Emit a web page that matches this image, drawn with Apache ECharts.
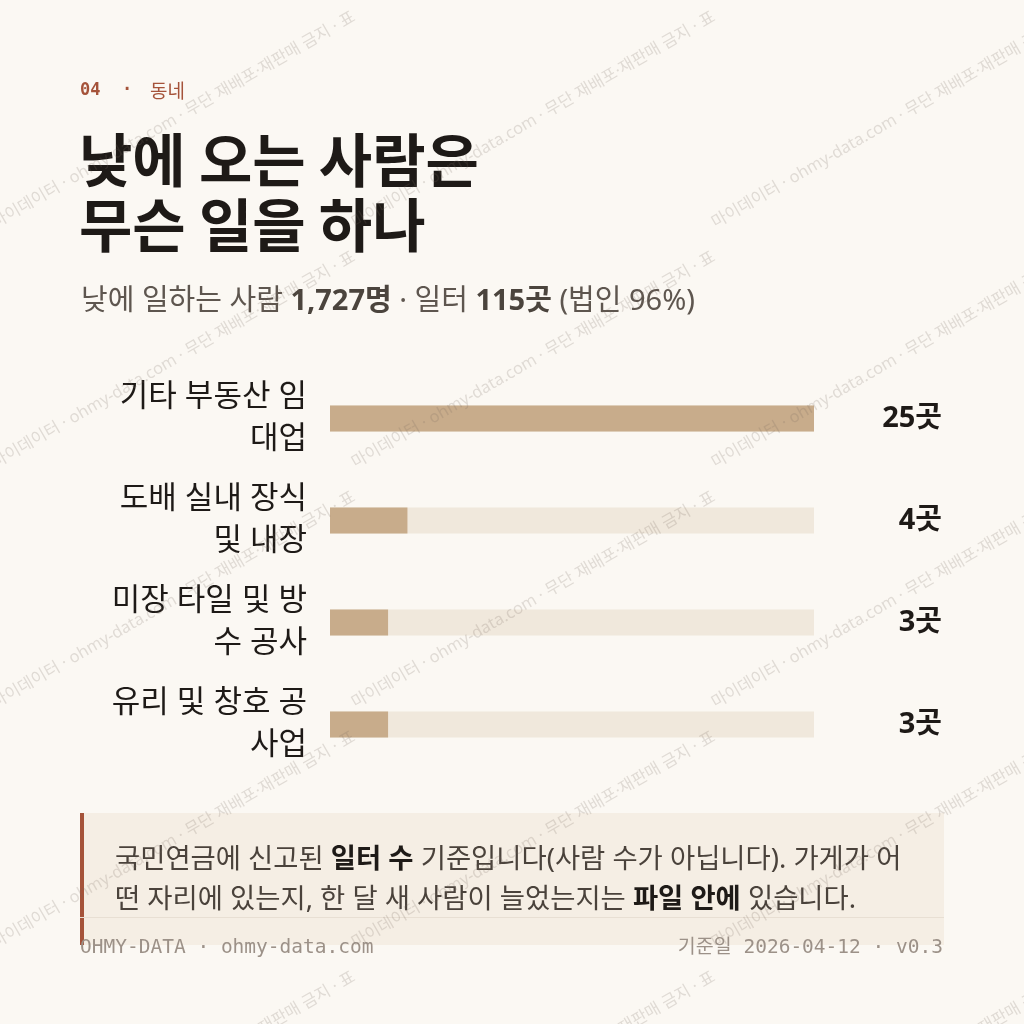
<!DOCTYPE html>
<html><head><meta charset="utf-8">
<script src="https://cdn.jsdelivr.net/npm/echarts@6/dist/echarts.min.js"></script>
<style>html,body{margin:0;padding:0;background:#FBF8F3;} #c{width:1024px;height:1024px;}</style>
</head><body><div id="c"></div>
<script>
// ---- data ----
const categories = ['기타 부동산 임대업', '도배 실내 장식 및 내장', '미장 타일 및 방수 공사', '유리 및 창호 공사업'];
const values = [25, 4, 3, 3];
const valueUnit = '곳';
const workers = '1,727';
const sites = 115;
const corpShare = 96;

// ---- styles ----
const SANS = "'Noto Sans', 'Noto Sans CJK KR', sans-serif";
const CJK = "'Noto Sans CJK KR', 'Noto Sans', sans-serif";
const MONO = "'DejaVu Sans Mono', 'Noto Sans CJK KR', monospace";
const BG = '#FBF8F3', RUST = '#A5533A', INK = '#1E1A17';

const mctx = document.createElement('canvas').getContext('2d');
function wrap(s, font, maxW) {
  mctx.font = font;
  const lines = []; let cur = '';
  for (const ch of s) {
    const t = cur + ch;
    if (mctx.measureText(t.trimEnd()).width > maxW && cur.trim()) {
      lines.push(cur.trimEnd()); cur = ch === ' ' ? '' : ch;
    } else cur = t;
  }
  if (cur.trim()) lines.push(cur.trim());
  return lines.join('\n');
}

const chart = echarts.init(document.getElementById('c'), null, {renderer: 'canvas'});

const graphics = [];
// note box
graphics.push({type: 'rect', shape: {x: 80, y: 813, width: 864, height: 132}, style: {fill: '#F5EEE4'}, z: 1, silent: true});
graphics.push({type: 'rect', shape: {x: 80, y: 813, width: 4, height: 132}, style: {fill: RUST}, z: 2, silent: true});
graphics.push({type: 'line', shape: {x1: 80, y1: 917.5, x2: 944, y2: 917.5}, style: {stroke: '#E8DFD3', lineWidth: 1}, z: 2, silent: true});
// kicker
graphics.push({type: 'text', x: 80, y: 91, style: {text: '04', fontFamily: MONO, fontWeight: 'bold', fontSize: 17, fill: RUST, verticalAlign: 'middle'}, z: 3});
graphics.push({type: 'text', x: 122, y: 91, style: {text: '·', fontFamily: MONO, fontWeight: 'bold', fontSize: 17, fill: RUST, verticalAlign: 'middle'}, z: 3});
graphics.push({type: 'text', x: 150, y: 91, style: {text: '동네', fontFamily: CJK, fontSize: 19, fill: RUST, verticalAlign: 'middle'}, z: 3});
// title
graphics.push({type: 'text', x: 79, y: 192, style: {text: '낮에 오는 사람은\n무슨 일을 하나', fontFamily: CJK, fontWeight: 'bold', fontSize: 58, lineHeight: 65, fill: INK, verticalAlign: 'middle'}, z: 3});
// subtitle
graphics.push({type: 'text', x: 81, y: 302, style: {
  text: '{n|낮에 일하는 사람 }{b|' + workers + '명}{n| · 일터 }{b|' + sites + '곳}{n| (법인 ' + corpShare + '%)}',
  verticalAlign: 'middle',
  rich: {
    n: {fontFamily: SANS, fontSize: 29, fill: '#5E564F'},
    b: {fontFamily: SANS, fontSize: 29, fontWeight: 'bold', fill: '#4B443D'}
  }}, z: 3});
// note text
graphics.push({type: 'text', x: 115, y: 880, style: {
  text: '{n|국민연금에 신고된 }{b|일터 수}{n| 기준입니다(사람 수가 아닙니다). 가게가 어}\n{n|떤 자리에 있는지, 한 달 새 사람이 늘었는지는 }{b|파일 안에}{n| 있습니다.}',
  verticalAlign: 'middle',
  rich: {
    n: {fontFamily: SANS, fontSize: 27.4, lineHeight: 40, fill: '#4A423B'},
    b: {fontFamily: SANS, fontSize: 27.4, lineHeight: 40, fontWeight: 'bold', fill: INK}
  }}, z: 3});
// footer
graphics.push({type: 'text', x: 80, y: 948, style: {text: 'OHMY-DATA · ohmy-data.com', fontFamily: MONO, fontSize: 19.5, fill: '#9C9188', verticalAlign: 'middle'}, z: 3});
graphics.push({type: 'text', x: 943, y: 948, style: {text: '기준일 2026-04-12 · v0.3', fontFamily: MONO, fontSize: 19.5, fill: '#9C9188', verticalAlign: 'middle', align: 'right'}, z: 3});
// watermark tiles
const WM = '마이데이터 · ohmy-data.com · 무단 재배포·재판매 금지 · 표';
for (let i = 0; i < 3; i++) {
  for (let j = 0; j < 5; j++) {
    graphics.push({type: 'text', x: 360 * i + 354, y: 240 * j + 16, rotation: Math.PI / 6,
      style: {text: WM, fontFamily: SANS, fontSize: 16.5, fill: 'rgba(120,105,95,0.2)', align: 'right', verticalAlign: 'middle'},
      z: 100, silent: true});
  }
}

const labelFont = "31px " + SANS;
chart.setOption({
  backgroundColor: BG,
  animation: false,
  graphic: {elements: graphics},
  grid: {left: 330, right: 210, top: 367.5, height: 408, containLabel: false},
  xAxis: {type: 'value', min: 0, max: Math.max(...values), show: false},
  yAxis: [
    {type: 'category', data: categories, inverse: true,
     axisLine: {show: false}, axisTick: {show: false}, splitLine: {show: false},
     axisLabel: {formatter: v => wrap(v, labelFont, 205), fontFamily: SANS, fontSize: 31, lineHeight: 42,
                 color: INK, align: 'right', margin: 23}},
    {type: 'category', data: values.map(v => v + valueUnit), inverse: true, position: 'right',
     axisLine: {show: false}, axisTick: {show: false}, splitLine: {show: false},
     axisLabel: {fontFamily: SANS, fontSize: 29, fontWeight: 'bold', color: INK, align: 'right', margin: 128}}
  ],
  series: [{type: 'bar', data: values, yAxisIndex: 0, barWidth: 26,
    itemStyle: {color: '#C8AC8B'}, showBackground: true, backgroundStyle: {color: '#F0E8DC'}, silent: true}]
});
</script></body></html>
